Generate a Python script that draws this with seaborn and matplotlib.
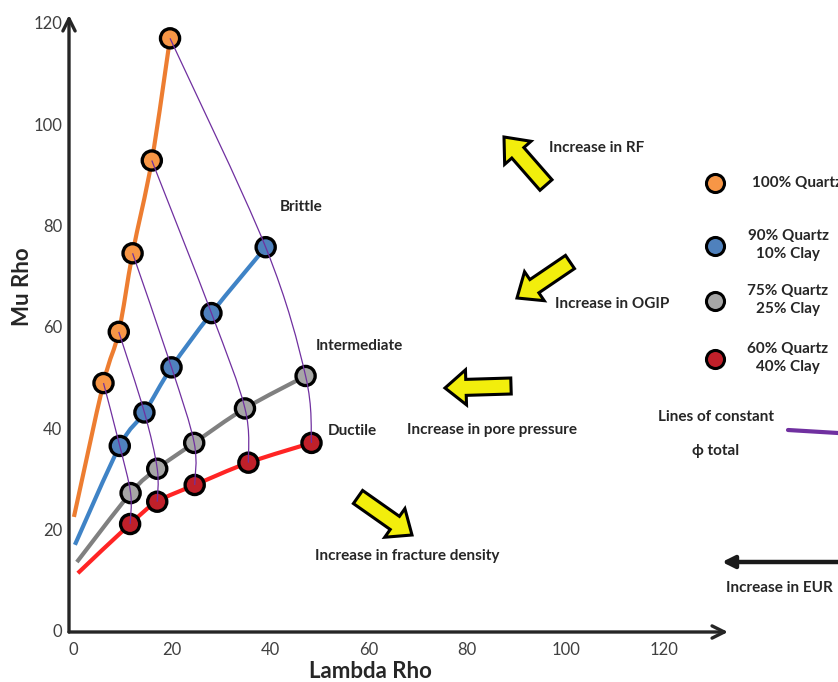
import numpy as np
import pandas as pd
import matplotlib
matplotlib.use("Agg")
import matplotlib.pyplot as plt
import seaborn as sns
from matplotlib.path import Path
from matplotlib.patches import PathPatch, FancyArrow, FancyArrowPatch
from matplotlib.transforms import IdentityTransform
from matplotlib.lines import Line2D

# ---------------- data ----------------
series_labels = ["100% Quartz", "90% Quartz\n10% Clay", "75% Quartz\n25% Clay", "60% Quartz\n40% Clay"]
q100_x = [6.2, 9.3, 12.1, 16.0, 19.7]
q100_y = [48.9, 59.0, 74.5, 92.8, 116.9]
q90_x = [9.5, 14.5, 20.0, 28.1, 39.1]
q90_y = [36.5, 43.1, 52.0, 62.7, 75.7]
q75_x = [11.7, 17.1, 24.6, 34.9, 47.2]
q75_y = [27.2, 32.0, 37.1, 43.9, 50.3]
q60_x = [11.6, 17.1, 24.7, 35.6, 48.4]
q60_y = [21.1, 25.5, 28.8, 33.2, 37.1]
# where each coloured trend line starts near the origin
line_start_x = [0.2, 0.4, 0.8, 1.0]
line_start_y = [22.5, 17.0, 13.6, 11.4]
x_ticks = [0, 20, 40, 60, 80, 100, 120]
y_ticks = [0, 20, 40, 60, 80, 100, 120]

fill_colors = ["#F79646", "#4F81BD", "#A6A6A6", "#C0202A"]
line_colors = ["#ED7D31", "#3F83C6", "#808080", "#FF2424"]
purple = "#7030A0"

xs = [q100_x, q90_x, q75_x, q60_x]
ys = [q100_y, q90_y, q75_y, q60_y]
df = pd.concat([pd.DataFrame({"x": x, "y": y, "mix": lab, "idx": range(len(x))})
                for x, y, lab in zip(xs, ys, series_labels)], ignore_index=True)

# ---------------- figure ----------------
sns.set_theme(style="white")
plt.rcParams["font.family"] = ["Lato", "DejaVu Sans"]
W, H = 838, 682
fig = plt.figure(figsize=(W / 100, H / 100), dpi=100)
ax = fig.add_axes([69 / W, 1 - 632 / H, (728 - 69) / W, (632 - 15) / H])
ax.set_xlim(-0.8, 132.9)
ax.set_ylim(-0.2, 121.5)


def smooth_path(px, py):
    """Catmull-Rom curve through the points, drawn as cubic Bezier segments."""
    P = np.column_stack([px, py]).astype(float)
    n = len(P)
    verts = [P[0]]
    codes = [Path.MOVETO]
    for i in range(n - 1):
        p0 = P[i - 1] if i > 0 else P[i]
        p1, p2 = P[i], P[i + 1]
        p3 = P[i + 2] if i + 2 < n else P[i + 1]
        c1 = p1 + (p2 - p0) / 6.0
        c2 = p2 - (p3 - p1) / 6.0
        verts += [c1, c2, p2]
        codes += [Path.CURVE4] * 3
    return Path(verts, codes)


# coloured trend lines
for x, y, sx, sy, c in zip(xs, ys, line_start_x, line_start_y, line_colors):
    patch = PathPatch(smooth_path([sx] + x, [sy] + y), fill=False, edgecolor=c,
                      lw=3.0, capstyle="butt", zorder=2)
    ax.add_patch(patch)

# markers
sns.scatterplot(data=df, x="x", y="y", hue="mix", palette=fill_colors, s=190,
                edgecolor="black", linewidth=2.4, legend=False, ax=ax, zorder=3)

# lines of constant phi total
for i in range(len(q100_x)):
    cx = [x[i] for x in xs]
    cy = [y[i] for y in ys]
    ax.add_patch(PathPatch(smooth_path(cx, cy), fill=False, edgecolor=purple,
                           lw=0.9, zorder=4))

# axes styling
for s in ax.spines.values():
    s.set_visible(False)
ax.set_xticks(x_ticks)
ax.set_yticks(y_ticks)
ax.tick_params(axis="both", length=0, labelsize=12, labelcolor="#404040")
ax.tick_params(axis="x", pad=7)
ax.tick_params(axis="y", pad=5)
ax.grid(False)
arrow_kw = dict(arrowstyle="->", lw=2.4, color="#262626", mutation_scale=22,
                shrinkA=0, shrinkB=0)
ax.annotate("", xy=(0, 1), xytext=(0, 0), xycoords="axes fraction", arrowprops=arrow_kw)
ax.annotate("", xy=(1, 0), xytext=(0, 0), xycoords="axes fraction", arrowprops=arrow_kw)
ax.set_xlabel("Lambda Rho", fontsize=16, fontweight="bold", color="#262626",
              va="center", ha="center")
ax.set_ylabel("Mu Rho", fontsize=16, fontweight="bold", color="#262626",
              va="center", ha="center")
ax.xaxis.set_label_coords((370 - 69) / 659, (632 - 672) / 617)
ax.yaxis.set_label_coords((22 - 69) / 659, (632 - 287) / 617)

FS = 11


def ftext(px, py, s, ha="left", **kw):
    fig.text(px / W, 1 - py / H, s, ha=ha, va="center", fontsize=FS,
             fontweight="bold", color="#262626", **kw)


ftext(280, 207, "Brittle")
ftext(316, 346, "Intermediate")
ftext(328, 431, "Ductile")
ftext(549, 148, "Increase in RF")
ftext(555, 304, "Increase in OGIP")
ftext(407, 430, "Increase in pore pressure")
ftext(315, 556, "Increase in fracture density")
ftext(726, 588, "Increase in EUR")

# yellow block arrows (tail -> tip, in image pixels)
yellow_arrows = [((546, 185), (504, 137)),
                 ((570, 262), (517, 298)),
                 ((511, 386), (445, 388)),
                 ((358, 497), (412, 535))]
for (tx, ty), (hx, hy) in yellow_arrows:
    arr = FancyArrow(tx, H - ty, hx - tx, -(hy - ty), width=16, head_width=35,
                     head_length=21, length_includes_head=True, facecolor="#F2EE0C",
                     edgecolor="black", lw=2.2, transform=IdentityTransform(), zorder=5)
    fig.add_artist(arr)

# EUR arrow
fig.add_artist(FancyArrowPatch(
    (W + 20, H - 562), (722, H - 562), arrowstyle="-|>", mutation_scale=18, lw=3.2,
    color="#1a1a1a", transform=IdentityTransform(), shrinkA=0, shrinkB=0))

# legend
legend_y = [183, 246, 301, 359]
for c, ly in zip(fill_colors, legend_y):
    fig.add_artist(Line2D([715 / W], [1 - ly / H], marker="o", markersize=13,
                          markerfacecolor=c, markeredgecolor="black",
                          markeredgewidth=2.2, linestyle="none",
                          transform=fig.transFigure))
ftext(752, 183, series_labels[0])
for lab, ly in zip(series_labels[1:], legend_y[1:]):
    fig.text(788 / W, 1 - (ly - 1) / H, lab, ha="center", va="center", fontsize=FS,
             fontweight="bold", color="#262626", linespacing=1.3)
ftext(716, 417, "Lines of constant", ha="center")
ftext(716, 451, "ϕ total", ha="center")
fig.add_artist(Line2D([788 / W, 1.0], [1 - 430 / H, 1 - 433 / H], color=purple, lw=3.0,
                      transform=fig.transFigure))

fig.savefig("out.png", dpi=100)
